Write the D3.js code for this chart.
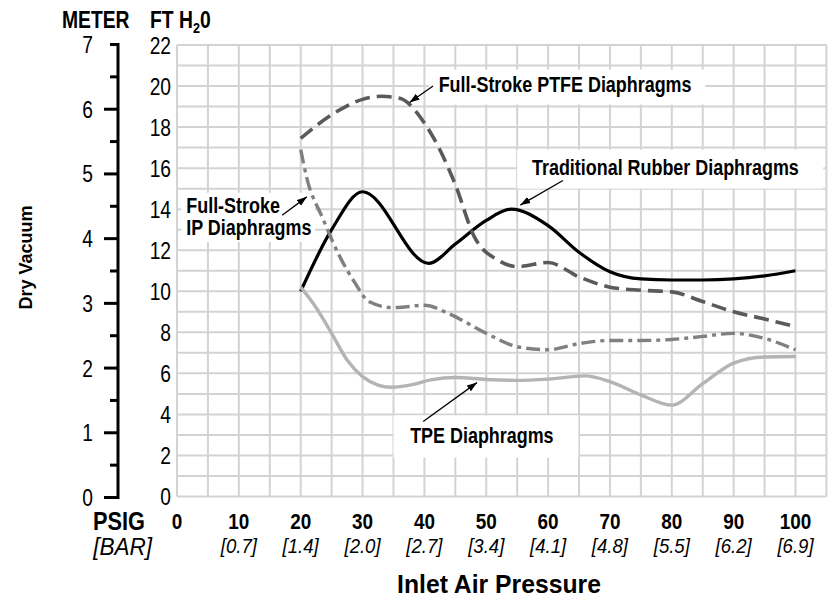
<!DOCTYPE html>
<html><head><meta charset="utf-8">
<script src="https://cdn.jsdelivr.net/npm/d3@7"></script>
<style>body{margin:0;background:#fff}</style>
</head><body><svg id="c" width="837" height="598"></svg>
<script>
// ---- data ----
const psiTicks = [0, 10, 20, 30, 40, 50, 60, 70, 80, 90, 100];
const barTicks = ["", "[0.7]", "[1.4]", "[2.0]", "[2.7]", "[3.4]", "[4.1]", "[4.8]", "[5.5]", "[6.2]", "[6.9]"];
const ftTicks = [0, 2, 4, 6, 8, 10, 12, 14, 16, 18, 20, 22];
const meterTicks = [0, 1, 2, 3, 4, 5, 6, 7];

const rubberPsi = [20, 25, 30, 40.7, 45, 50, 54, 60, 65, 70, 75, 80, 85, 90, 95, 100];
const rubberFt  = [10.0, 13.0, 14.85, 11.36, 12.3, 13.45, 14.0, 13.2, 11.9, 10.95, 10.6, 10.55, 10.55, 10.6, 10.75, 11.0];

const ptfePsi = [20, 25, 30, 33, 36, 40, 45, 48, 52, 55, 60, 65, 70, 75, 80, 85, 90, 95, 100];
const ptfeFt  = [17.45, 18.6, 19.35, 19.5, 19.4, 18.2, 15.2, 12.7, 11.5, 11.2, 11.4, 10.7, 10.2, 10.05, 9.97, 9.5, 9.0, 8.65, 8.28];

const ipPsi = [20, 21, 23.5, 26.3, 28.8, 31, 35, 40, 44, 50, 55, 60, 65, 70, 75, 80, 85, 90, 95, 100];
const ipFt  = [16.9, 15.5, 13.6, 11.7, 10.4, 9.5, 9.2, 9.32, 8.9, 7.95, 7.3, 7.15, 7.45, 7.6, 7.6, 7.65, 7.8, 7.95, 7.7, 7.15];

const tpePsi = [20, 22.5, 25, 27.5, 30, 32.5, 34.5, 38, 41, 45, 50, 55, 60, 66, 70, 75, 80, 85, 90, 95, 100];
const tpeFt  = [10.2, 9.2, 7.95, 6.65, 5.84, 5.43, 5.32, 5.45, 5.68, 5.8, 5.7, 5.66, 5.72, 5.88, 5.6, 4.95, 4.45, 5.5, 6.5, 6.8, 6.82];

// ---- setup ----
const svg = d3.select("#c");
const sans = "'Liberation Sans',Arial,Helvetica,sans-serif";
const x = d3.scaleLinear().domain([0, 100]).range([177, 795.5]);
const yFt = d3.scaleLinear().domain([0, 22]).range([496.5, 45]);
const yM = d3.scaleLinear().domain([0, 7]).range([497.5, 44.5]);

// condensed text helper: horizontally scaled Liberation Sans
function ctext(parent, px, py, str, o) {
  const t = parent.append("text")
    .attr("transform", `translate(${px},${py}) scale(${o.sx || 1},1)`)
    .attr("font-family", sans).attr("font-size", o.size)
    .attr("font-weight", o.bold ? "bold" : "normal")
    .attr("font-style", o.italic ? "italic" : "normal")
    .attr("text-anchor", o.anchor || "start");
  if (str !== null) t.text(str);
  return t;
}

// grid
const g = svg.append("g").attr("stroke", "#d3d3d3").attr("stroke-width", 2);
g.selectAll(".v").data(d3.range(0, 106, 5)).join("line")
  .attr("x1", d => x(d)).attr("x2", d => x(d)).attr("y1", yFt(0)).attr("y2", yFt(22));
g.selectAll(".h").data(d3.range(0, 23, 1)).join("line")
  .attr("y1", d => yFt(d)).attr("y2", d => yFt(d)).attr("x1", x(0)).attr("x2", x(105));

// annotation boxes (data coordinates)
const boxes = [
  {x0: 40.8, x1: 85.4, y0: 20.8, y1: 19.1},
  {x0: 55.0, x1: 104.5, y0: 16.9, y1: 15.0},
  {x0: 0.7, x1: 22.3, y0: 14.8, y1: 12.4},
  {x0: 35.0, x1: 64.9, y0: 3.95, y1: 1.9}
];
svg.append("g").selectAll("rect").data(boxes).join("rect")
  .attr("x", d => x(d.x0)).attr("y", d => yFt(d.y0))
  .attr("width", d => x(d.x1) - x(d.x0)).attr("height", d => yFt(d.y1) - yFt(d.y0))
  .attr("fill", "#fff");

// lines
const line = d3.line().x(d => x(d[0])).y(d => yFt(d[1])).curve(d3.curveMonotoneX);
const series = [
  {psi: rubberPsi, ft: rubberFt, color: "#000", w: 3.2, dash: null},
  {psi: ptfePsi, ft: ptfeFt, color: "#5a5a5a", w: 3.6, dash: "15,7"},
  {psi: ipPsi, ft: ipFt, color: "#808080", w: 3.4, dash: "14,5,4,5"},
  {psi: tpePsi, ft: tpeFt, color: "#b4b4b4", w: 3.4, dash: null}
];
svg.append("g").selectAll("path").data(series).join("path")
  .attr("d", s => line(s.psi.map((p, i) => [p, s.ft[i]])))
  .attr("fill", "none").attr("stroke", s => s.color).attr("stroke-width", s => s.w)
  .attr("stroke-dasharray", s => s.dash);

// meter axis
const ax = svg.append("g").attr("stroke", "#000").attr("stroke-width", 3);
ax.append("line").attr("x1", 118).attr("x2", 118).attr("y1", yM(0) + 1.5).attr("y2", yM(7) - 1.5);
ax.selectAll(".mt").data(d3.range(0, 7.01, 0.5)).join("line")
  .attr("x1", d => (d % 1 === 0 && d < 7) ? 104 : 110).attr("x2", 118)
  .attr("y1", d => yM(d)).attr("y2", d => yM(d));
const mg = svg.append("g");
meterTicks.forEach(d => ctext(mg, 93, yM(d) + 8.5, String(d), {size: 24, sx: 0.8, anchor: "end"}));

// ft labels
const fg = svg.append("g");
ftTicks.forEach(d => ctext(fg, 171, yFt(d) + 8.5, String(d), {size: 24, sx: 0.8, anchor: "end"}));

// headers
ctext(svg, 62, 28, "METER", {size: 23, sx: 0.84, bold: true});
const ft = ctext(svg, 150, 28, null, {size: 23, sx: 0.84, bold: true});
ft.append("tspan").text("FT H");
ft.append("tspan").attr("font-size", 15).attr("dy", 5).text("2");
ft.append("tspan").attr("dy", -5).text("0");

// x labels
const xg = svg.append("g");
psiTicks.forEach((d, i) => {
  ctext(xg, x(d), 529, String(d), {size: 22, sx: 0.86, bold: true, anchor: "middle"});
  if (barTicks[i]) ctext(xg, x(d), 553, barTicks[i], {size: 20, sx: 0.93, italic: true, anchor: "middle"});
});
ctext(svg, 145, 530, "PSIG", {size: 25, sx: 0.87, bold: true, anchor: "end"});
ctext(svg, 152, 555, "[BAR]", {size: 23, sx: 0.98, italic: true, anchor: "end"});
ctext(svg, 499, 593, "Inlet Air Pressure", {size: 25.5, sx: 0.97, bold: true, anchor: "middle"});
svg.append("text").attr("transform", "translate(32,257.5) rotate(-90)").attr("text-anchor", "middle")
  .attr("font-family", sans).attr("font-weight", "bold").attr("font-size", 18)
  .text("Dry Vacuum");

// annotations
svg.append("defs").append("marker").attr("id", "ah").attr("markerUnits", "userSpaceOnUse")
  .attr("markerWidth", 11).attr("markerHeight", 8).attr("refX", 10).attr("refY", 4).attr("orient", "auto")
  .append("path").attr("d", "M0,0.5L10,4L0,7.5Z").attr("fill", "#000");

const labels = [
  {lines: ["Full-Stroke PTFE Diaphragms"], px: 42.3, py: 19.7, from: [41.4, 20.0], to: [37.6, 19.2]},
  {lines: ["Traditional Rubber Diaphragms"], px: 57.4, py: 15.65, from: [62.4, 15.4], to: [55.5, 14.2]},
  {lines: ["Full-Stroke", "IP Diaphragms"], px: 1.5, py: 13.8, from: [17.0, 13.7], to: [21.0, 14.6]},
  {lines: ["TPE Diaphragms"], px: 37.7, py: 2.6, from: [39.8, 3.65], to: [48.5, 5.55]}
];
const ag = svg.append("g");
labels.forEach(l => {
  l.lines.forEach((t, i) => {
    ctext(ag, x(l.px), yFt(l.py) + i * 22, t, {size: 21.5, sx: 0.834, bold: true});
  });
  ag.append("line").attr("x1", x(l.from[0])).attr("y1", yFt(l.from[1]))
    .attr("x2", x(l.to[0])).attr("y2", yFt(l.to[1]))
    .attr("stroke", "#000").attr("stroke-width", 1.3).attr("marker-end", "url(#ah)");
});
</script>
</body></html>
